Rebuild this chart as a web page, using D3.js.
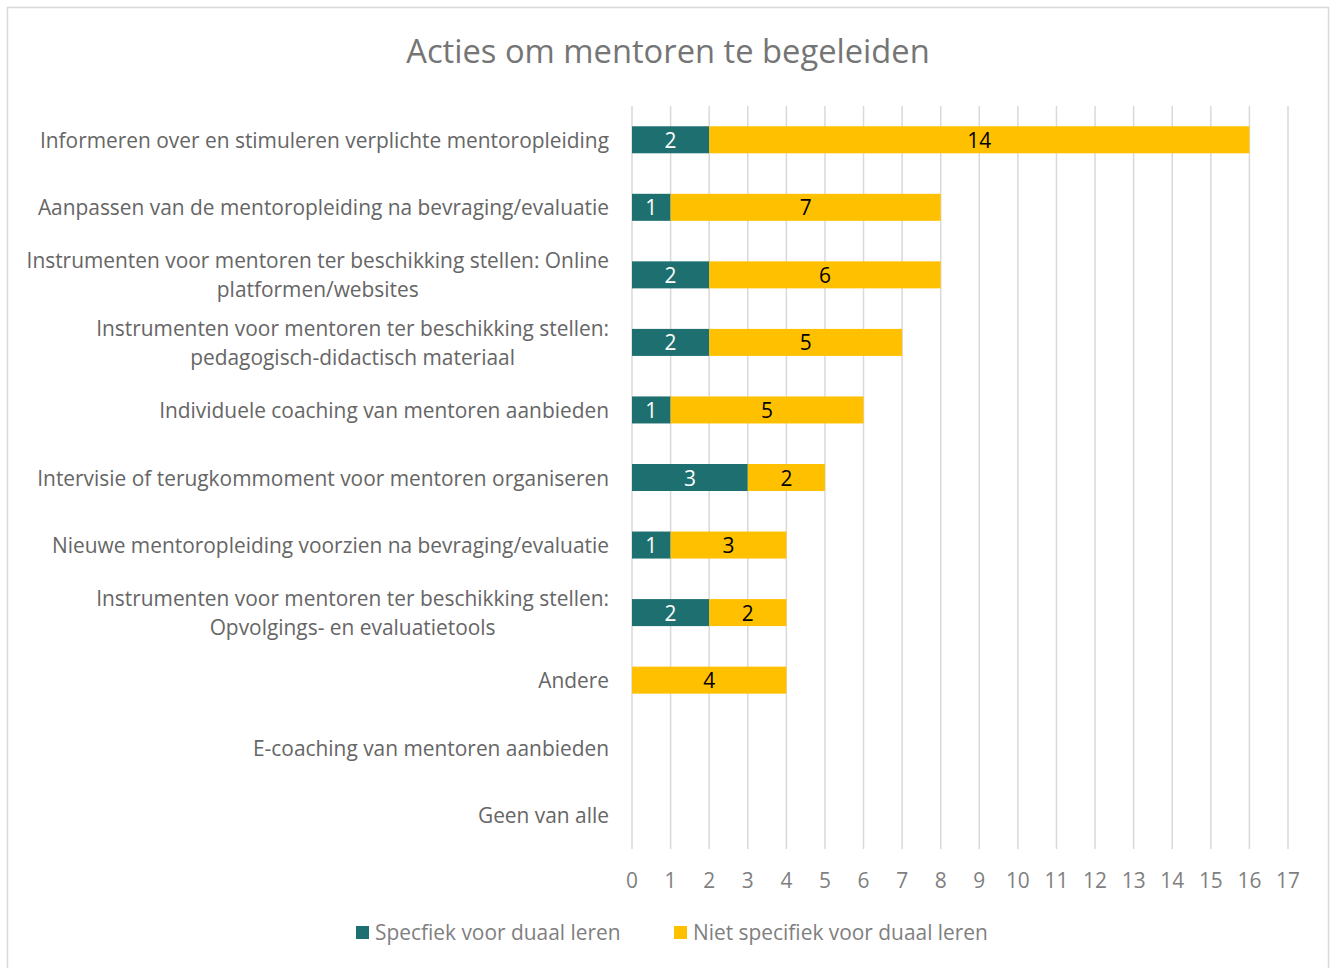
<!DOCTYPE html>
<html>
<head>
<meta charset="utf-8">
<script src="https://cdn.jsdelivr.net/npm/d3@7"></script>
<style>
  body { margin: 0; background: #fff; }
  svg text { font-family: "Open Sans", Lato, sans-serif; }
</style>
</head>
<body>
<div id="chart"></div>
<script>
var categories = [
  ['Informeren over en stimuleren verplichte mentoropleiding'],
  ['Aanpassen van de mentoropleiding na bevraging/evaluatie'],
  ['Instrumenten voor mentoren ter beschikking stellen: Online', 'platformen/websites'],
  ['Instrumenten voor mentoren ter beschikking stellen:', 'pedagogisch-didactisch materiaal'],
  ['Individuele coaching van mentoren aanbieden'],
  ['Intervisie of terugkommoment voor mentoren organiseren'],
  ['Nieuwe mentoropleiding voorzien na bevraging/evaluatie'],
  ['Instrumenten voor mentoren ter beschikking stellen:', 'Opvolgings- en evaluatietools'],
  ['Andere'],
  ['E-coaching van mentoren aanbieden'],
  ['Geen van alle']
];
var specifiek = [2, 1, 2, 2, 1, 3, 1, 2, 0, 0, 0];
var nietSpecifiek = [14, 7, 6, 5, 5, 2, 3, 2, 4, 0, 0];
var seriesNames = ['Specfiek voor duaal leren', 'Niet specifiek voor duaal leren'];
var colors = ['#1e6f70', '#ffc000'];
var xTicks = d3.range(0, 18);

var W = 1336, H = 968;
var margin = { top: 106, right: 48, bottom: 119, left: 632 };
var fs = '20.9px';

var svg = d3.select('#chart').append('svg').attr('width', W).attr('height', H);

// chart frame
svg.append('rect').attr('x', 7.5).attr('y', 7.5).attr('width', 1321).attr('height', 970)
  .attr('fill', 'none').attr('stroke', '#d9d9d9').attr('stroke-width', 1.5);

svg.append('text').attr('x', 668).attr('y', 63).attr('text-anchor', 'middle')
  .attr('fill', '#757575').style('font-size', '32.7px').text('Acties om mentoren te begeleiden');

var x = d3.scaleLinear().domain([0, 17]).range([margin.left, W - margin.right]);
var y = d3.scaleBand().domain(d3.range(categories.length))
  .range([margin.top, H - margin.bottom]).paddingInner(0.6).paddingOuter(0.3);

// gridlines
svg.append('g').selectAll('line').data(xTicks).join('line')
  .attr('x1', d => x(d)).attr('x2', d => x(d))
  .attr('y1', margin.top).attr('y2', H - margin.bottom)
  .attr('stroke', '#d9d9d9').attr('stroke-width', 1.5);

// tick labels
svg.append('g').selectAll('text').data(xTicks).join('text')
  .attr('x', d => x(d)).attr('y', 888).attr('text-anchor', 'middle')
  .attr('fill', '#7f7f7f').style('font-size', fs).text(d => d);

// category labels: lines centred on each other, block right-aligned at 609
var lab = svg.append('g').selectAll('text').data(categories).join('text')
  .attr('text-anchor', 'middle').attr('fill', '#666').style('font-size', fs)
  .attr('y', (d, i) => y(i) + y.bandwidth() / 2 + 8 - (d.length - 1) * 14.5);
lab.selectAll('tspan').data(d => d).join('tspan')
  .attr('dy', (d, j) => j == 0 ? 0 : 29)
  .text(d => d);
lab.each(function () {
  var spans = d3.select(this).selectAll('tspan');
  var maxW = d3.max(spans.nodes(), n => n.getComputedTextLength());
  spans.attr('x', 609 - maxW / 2);
});

// stacked bars
var rows = specifiek.map((s, i) => ({ i: i, vals: [s, nietSpecifiek[i]] }));
var stack = d3.stack().keys([0, 1]).value((d, k) => d.vals[k]);
var stacked = stack(rows);

var layers = svg.append('g').selectAll('g').data(stacked).join('g')
  .attr('fill', (d, k) => colors[k]);
layers.selectAll('rect').data(d => d).join('rect')
  .attr('x', d => x(d[0])).attr('width', d => x(d[1]) - x(d[0]))
  .attr('y', d => y(d.data.i)).attr('height', y.bandwidth());

layers.selectAll('text').data(d => d.filter(e => e[1] - e[0] > 0)).join('text')
  .attr('x', d => (x(d[0]) + x(d[1])) / 2)
  .attr('y', d => y(d.data.i) + y.bandwidth() / 2 + 8)
  .attr('text-anchor', 'middle').style('font-size', fs)
  .attr('fill', function () { return d3.select(this.parentNode).datum().key == 0 ? '#fff' : '#000'; })
  .text(d => d[1] - d[0]);

// legend
var legendX = [356, 674];
var lg = svg.append('g').selectAll('g').data(seriesNames).join('g')
  .attr('transform', (d, k) => 'translate(' + legendX[k] + ',926)');
lg.append('rect').attr('width', 13).attr('height', 13).attr('fill', (d, k) => colors[k]);
lg.append('text').attr('x', 19).attr('y', 14).attr('fill', '#7f7f7f')
  .style('font-size', fs).text(d => d);
</script>
</body>
</html>
